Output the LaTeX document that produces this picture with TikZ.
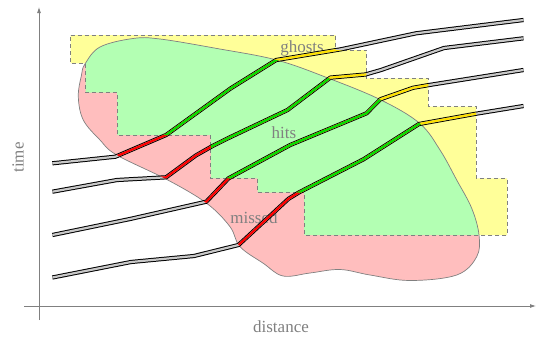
\documentclass[tikz,border=0pt]{standalone}
\usepackage{fontspec}
\setmainfont{Liberation Serif}
\usetikzlibrary{arrows.meta}
\definecolor{ylwfill}{RGB}{255,255,153}
\definecolor{grnfill}{RGB}{179,255,179}
\definecolor{pnkfill}{RGB}{255,190,190}
\definecolor{trkgray}{RGB}{200,200,200}
\definecolor{trkred}{RGB}{255,0,0}
\definecolor{trkgrn}{RGB}{0,225,0}
\definecolor{trkylw}{RGB}{255,225,0}
\definecolor{lblgray}{RGB}{128,128,128}
\tikzset{
  stairs/.style={insert path={(70.6,35) -- (335.7,35) -- (335.7,50) -- (366.4,50) -- (366.4,78.3) -- (428.3,78.3) -- (428.3,106.7) -- (476.2,106.7) -- (476.2,178.3) -- (507,178.3) -- (507,235) -- (304.2,235) -- (304.2,192.7) -- (257.7,192.7) -- (257.7,178.3) -- (210.8,178.3) -- (210.8,135) -- (117.1,135) -- (117.1,92.7) -- (85.7,92.7) -- (85.7,63.3) -- (70.6,63.3) -- cycle}},
  blob/.style={insert path={plot[smooth cycle, tension=0.6] coordinates {(85,64) (100,47) (133,38.5) (160,39) (217,48.5) (276.5,60) (328.7,78.3) (381,100) (419.6,123.3) (440,150) (456.7,180) (471.7,208.3) (479,235) (476.7,256.7) (456.7,275) (410,280.5) (370,275) (340,269.5) (310,273) (283,276) (263.3,263.3) (240,246.7) (230,226.7) (206.7,203.3) (167.8,180) (116.7,155) (100,140) (83.3,120) (78.3,96.7) (81.5,75)}}},
  tA/.style={insert path={(52.4,163.3) -- (115.4,156.7) -- (166.1,135) -- (230.8,88.3) -- (276.2,60) -- (340.9,49.3) -- (416.1,33.3) -- (523.5,20)}},
  tB/.style={insert path={(52.4,191.7) -- (117,180) -- (166.1,177.3) -- (195.8,155.5) -- (212.5,146) -- (228.5,138) -- (287.5,110) -- (330.4,77.6) -- (365.4,74.5) -- (381,70) -- (444,48) -- (523.5,38.3)}},
  tC/.style={insert path={(52.4,235) -- (130,219) -- (206.3,201.7) -- (228.6,178.3) -- (290.2,145) -- (366.5,113.3) -- (380.5,99.2) -- (413,87.8) -- (427.3,85.3) -- (523.5,70)}},
  tD/.style={insert path={(52.4,277.5) -- (131,262) -- (194,256) -- (238.5,245) -- (288.5,198.8) -- (299,192.4) -- (363.5,159.3) -- (419,124) -- (475.5,113.8) -- (523.5,106)}},
  trackout/.style={draw=black, line width=4.2pt, line join=round},
  trackin/.style={line width=2.2pt, line join=round},
  lbl/.style={text=lblgray, font=\fontsize{17}{20}\selectfont, inner sep=0pt},
  axis/.style={draw=lblgray, line width=0.8pt},
  stairline/.style={draw=lblgray, line width=0.7pt, dash pattern=on 4pt off 3pt},
  blobline/.style={draw=lblgray, line width=0.7pt}
}
\begin{document}
\begin{tikzpicture}[x=1pt,y=-1pt]
\useasboundingbox (0,0) rectangle (546,338);
% regions
\fill[ylwfill, stairs];
\fill[pnkfill, blob];
\begin{scope}
  \clip[stairs];
  \fill[grnfill, blob];
\end{scope}
\path[stairline, stairs];
\path[blobline, blob];
% labels
\node[lbl] (ghosts) at (302,48) {ghosts};
\node[lbl] (hits) at (284,133) {hits};
\node[lbl] (missed) at (254,218) {missed};
\node[lbl] (distance) at (281,326.5) {distance};
\node[lbl, rotate=90] (time) at (18,157.5) {time};
% tracks
\path[trackout, tA];
\path[trackout, tB];
\path[trackout, tC];
\path[trackout, tD];
\path[trackin, draw=trkgray, tA, tB, tC, tD];
\begin{scope}
  \clip[stairs];
  \path[trackin, draw=trkylw, tA, tB, tC, tD];
\end{scope}
\begin{scope}
  \clip[blob];
  \path[trackin, draw=trkred, tA, tB, tC, tD];
\end{scope}
\begin{scope}
  \clip[blob];
  \clip[stairs];
  \path[trackin, draw=trkgrn, tA, tB, tC, tD];
\end{scope}
% axes
\coordinate (yorig) at (39,320);
\coordinate (ytip) at (39,7);
\coordinate (xorig) at (24,306);
\coordinate (xtip) at (536,306);
\draw[axis, -{Latex[length=6pt,width=4pt]}] (yorig) -- (ytip);
\draw[axis, -{Latex[length=6pt,width=4pt]}] (xorig) -- (xtip);
\end{tikzpicture}
\end{document}
